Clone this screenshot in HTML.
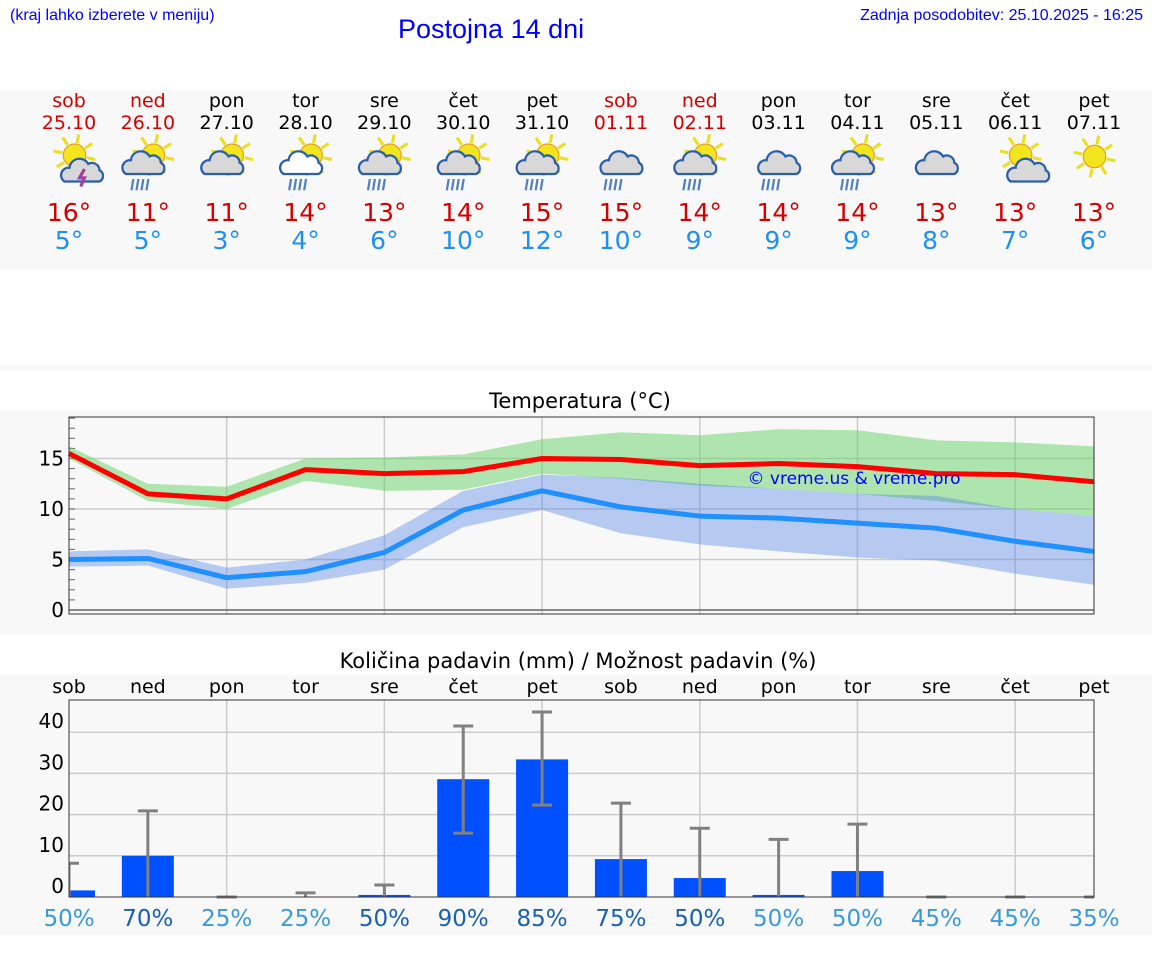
<!DOCTYPE html>
<html><head><meta charset="utf-8"><style>
body{margin:0;width:1152px;height:975px;background:#fff;position:relative;overflow:hidden;font-family:"DejaVu Sans","Liberation Sans",sans-serif}
.abs{position:absolute}
</style></head><body>
<div class="abs" style="left:10px;top:7px;font:16px 'Liberation Sans',sans-serif;color:#0000ff">(kraj lahko izberete v meniju)</div>
<div class="abs" style="left:398px;top:14px;font:27px 'Liberation Sans',sans-serif;color:#0000ff">Postojna 14 dni</div>
<div class="abs" style="right:9px;top:7px;font:16px 'Liberation Sans',sans-serif;color:#0000ff">Zadnja posodobitev: 25.10.2025 - 16:25</div>
<div class="abs" style="left:0;top:90px;width:1152px;height:180px;background:#f8f8f8"></div>
<div class="abs" style="left:0;top:365px;width:1152px;height:5px;background:#f8f8f8"></div>
<div class="abs" style="left:0;top:410px;width:1152px;height:224px;background:#f8f8f8"></div>
<div class="abs" style="left:0;top:675px;width:1152px;height:260px;background:#f8f8f8"></div>
<svg id="chart" class="abs" style="left:0;top:0" width="1152" height="975"></svg>
<script>
const dayNames=["sob","ned","pon","tor","sre","čet","pet","sob","ned","pon","tor","sre","čet","pet"];
const dates=["25.10","26.10","27.10","28.10","29.10","30.10","31.10","01.11","02.11","03.11","04.11","05.11","06.11","07.11"];
const weekend=[1,1,0,0,0,0,0,1,1,0,0,0,0,0];
const hiTemps=[16,11,11,14,13,14,15,15,14,14,14,13,13,13];
const loTemps=[5,5,3,4,6,10,12,10,9,9,9,8,7,6];
const icons=["st","sr","sc","sr","sr","sr","sr","cr","sr","cr","sr","c","sc","s"];
const maxLine=[15.5,11.5,11,13.9,13.5,13.7,15,14.9,14.3,14.5,14.2,13.5,13.4,12.7];
const maxHi=[16.2,12.5,12.2,15,15.1,15.4,16.9,17.6,17.3,17.9,17.8,16.8,16.6,16.2];
const maxLo=[15,10.8,10,12.8,11.8,11.9,13.5,13,12.3,12,11.5,10.8,10,9.3];
const minLine=[5,5.1,3.2,3.8,5.7,9.9,11.8,10.2,9.3,9.1,8.6,8.1,6.8,5.8];
const minHi=[5.8,6,4.2,5,7.4,11.8,13.4,13.1,12.5,12,11.5,11.3,10,9.3];
const minLo=[4.3,4.4,2.1,2.7,4,8.2,9.9,7.6,6.5,5.8,5.2,4.9,3.6,2.5];
const tempTicks=[0,5,10,15];
const precip=[1.6,10,0,0,0.5,28.6,33.4,9.2,4.6,0.5,6.3,0,0,0];
const errLo=[0,0,0,0,0,15.5,22.3,0,0,0,0,0,0,0];
const errHi=[8.2,20.9,0,1,2.9,41.5,44.9,22.8,16.7,14,17.7,0,0,0];
const probs=[50,70,25,25,50,90,85,75,50,50,50,45,45,35];
const probDark=[0,1,0,0,1,1,1,1,1,0,0,0,0,0];
const precipTicks=[0,10,20,30,40];

const NS="http://www.w3.org/2000/svg",svg=document.getElementById('chart');
function el(t,a,p){const e=document.createElementNS(NS,t);for(const k in a)e.setAttribute(k,a[k]);(p||svg).appendChild(e);return e;}
function tx(x,y,s,size,fill,anchor){const e=el('text',{x:x,y:y,'font-size':size,fill:fill,'text-anchor':anchor||'middle','font-family':'DejaVu Sans, Liberation Sans, sans-serif'});e.textContent=s;return e;}
const X0=69,X1=1094,dx=(X1-X0)/13;
const xs=i=>X0+dx*i;
const ty=v=>610-v*10.1;
const py=v=>897-v*4.12;

dayNames.forEach((d,i)=>{
 const c=weekend[i]?'#d40000':'#000';
 const cx=xs(i);
 tx(cx,107,d,19,c);
 tx(cx,129,dates[i],19,c);
 const ic=el('g',{transform:`translate(${cx-27},134) scale(1.25)`});
 
 
 const k=icons[i];
 if(k.includes('s')){
   const sx=k==='s'?22:26, sy=k==='s'?18:17;
   for(let a=0;a<8;a++){const an=a*Math.PI/4+0.2;el('line',{x1:sx+Math.cos(an)*10,y1:sy+Math.sin(an)*10,x2:sx+Math.cos(an)*17,y2:sy+Math.sin(an)*17,stroke:'#e8e020','stroke-width':2.5},ic);}
   el('circle',{cx:sx,cy:sy,r:9,fill:'#f2e51e',stroke:'#e8a020','stroke-width':1},ic);
 }
 if(k!=='s'){
   const small=(k==='sc'&&i===12)||k==='st';
   const ox=small?14:(k==='c'||k==='cr'?4:0), oy=small?6:0;
   el('path',{d:`M${ox+4} ${oy+32} a6 6 0 0 1 4 -11 a8 8 0 0 1 15 -3 a6 6 0 0 1 9 5 a5 5 0 0 1 0 9 z`,fill:k==='sr'&&i===3?'#fff':'#d8d8d8',stroke:'#2a5ea8','stroke-width':1.8},ic);
 }
 if(k.includes('r')){for(let r=0;r<4;r++)el('line',{x1:10+r*4,y1:36,x2:8.5+r*4,y2:45,stroke:'#5080c0','stroke-width':1.8},ic);}
 if(k==='st')el('path',{d:'M34 28 l-4 7 h4 l-3 7',stroke:'#a040a0','stroke-width':2.5,fill:'none'},ic);
 tx(cx,221,hiTemps[i]+'°',25,'#d40000');
 tx(cx,249,loTemps[i]+'°',25,'#2090f0');
});

tx(580,408,'Temperatura (°C)',21,'#000');
const tp=el('g',{});


tempTicks.forEach(v=>{el('line',{x1:X0,x2:X1,y1:ty(v),y2:ty(v),stroke:'#ccc','stroke-width':1.5},tp);
 const t=tx(64,ty(v)+7,String(v),20,'#000','end');});
for(let v=1;v<=19;v++){el('line',{x1:X0,x2:X0+6,y1:ty(v),y2:ty(v),stroke:'#666'},tp);}
for(let i=2;i<13;i+=2){el('line',{x1:xs(i),x2:xs(i),y1:417,y2:614,stroke:'#ccc','stroke-width':1.5},tp);}
function band(hi,lo,fill,name){let d='M'+hi.map((v,i)=>xs(i)+' '+ty(v)).join(' L')+' L'+lo.map((v,i)=>xs(i)+' '+ty(v)).reverse().join(' L')+'Z';const p=el('path',{d:d,fill:fill},tp);}
function line(vals,col,name){const p=el('polyline',{points:vals.map((v,i)=>xs(i)+','+ty(v)).join(' '),fill:'none',stroke:col,'stroke-width':5,'stroke-linejoin':'round'},tp);}
band(maxHi,maxLo,'rgba(100,210,100,0.5)','max-temp-range');
band(minHi,minLo,'rgba(80,130,230,0.4)','min-temp-range');
line(maxLine,'#ff0000','max-temp-line');
line(minLine,'#2090ff','min-temp-line');
el('rect',{x:X0,y:417,width:X1-X0,height:197,fill:'none',stroke:'#333','stroke-width':1},tp);
el('line',{x1:X0,x2:X1,y1:610,y2:610,stroke:'#333'},tp);
tx(854,484,'© vreme.us & vreme.pro',17,'#0000ff');

tx(578,668,'Količina padavin (mm) / Možnost padavin (%)',21,'#000');
const pp=el('g',{});


dayNames.forEach((d,i)=>{tx(xs(i),693,d,19,'#000');});
precipTicks.forEach(v=>{if(v>0)el('line',{x1:X0,x2:X1,y1:py(v),y2:py(v),stroke:'#ccc','stroke-width':1.5},pp);
 const t=tx(64,py(v)-4,String(v),20,'#000','end');});
for(let i=2;i<13;i+=2){el('line',{x1:xs(i),x2:xs(i),y1:700,y2:897,stroke:'#ccc','stroke-width':1.5},pp);}
const cp=el('clipPath',{id:'pc'});el('rect',{x:X0,y:700,width:X1-X0,height:200},cp);
const bars=el('g',{'clip-path':'url(#pc)'},pp);
precip.forEach((v,i)=>{const r=el('rect',{x:xs(i)-26,y:py(v),width:52,height:897-py(v),fill:'#0050ff'},bars);});
errHi.forEach((v,i)=>{const g=el('g',{stroke:'#808080','stroke-width':3},bars);
 
 el('line',{x1:xs(i),x2:xs(i),y1:py(errLo[i]),y2:py(v)},g);
 el('line',{x1:xs(i)-10,x2:xs(i)+10,y1:py(v),y2:py(v)},g);
 if(errLo[i]>0)el('line',{x1:xs(i)-10,x2:xs(i)+10,y1:py(errLo[i]),y2:py(errLo[i])},g);});
el('rect',{x:X0,y:700,width:X1-X0,height:197,fill:'none',stroke:'#333','stroke-width':1},pp);
probs.forEach((v,i)=>{tx(xs(i),926,v+'%',23,probDark[i]?'#1a60b0':'#3a9ad9');});
</script>
</body></html>
